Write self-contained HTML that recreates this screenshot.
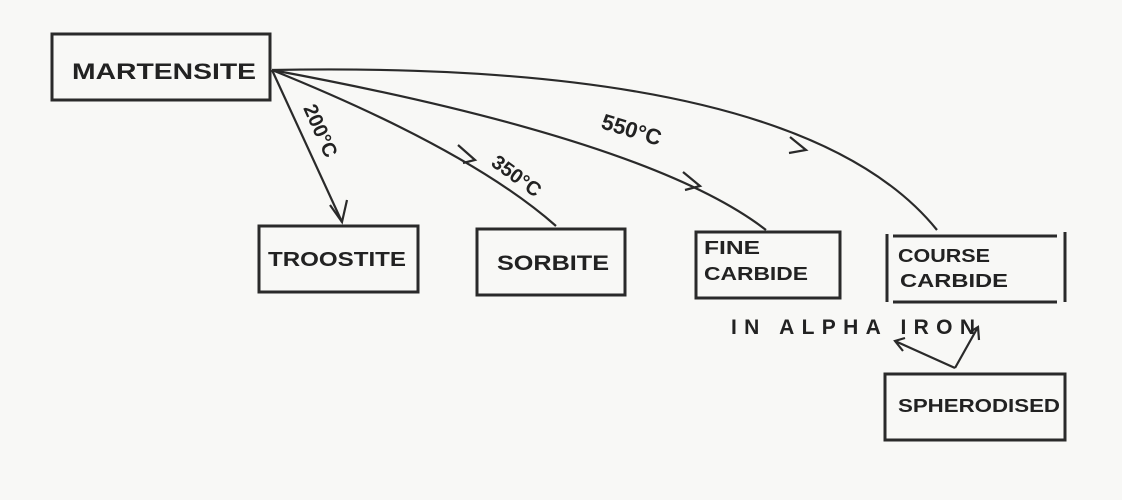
<!DOCTYPE html>
<html><head><meta charset="utf-8"><style>
html,body{margin:0;padding:0;background:#f8f8f6;}
svg{display:block}
text{font-family:"Liberation Sans",sans-serif;fill:#222;font-weight:bold}
</style></head><body>
<svg width="1122" height="500" viewBox="0 0 1122 500">
<rect width="1122" height="500" fill="#f8f8f6"/>
<g fill="none" stroke="#2a2a2a" stroke-width="3">
<rect x="52" y="34" width="218" height="66"/>
<rect x="259" y="226" width="159" height="66"/>
<rect x="477" y="229" width="148" height="66"/>
<rect x="696" y="232" width="144" height="66"/>
<path d="M887 234 V302 M893 236 H1057 M893 302 H1057 M1065 232 V302"/>
<rect x="885" y="374" width="180" height="66"/>
</g>
<g fill="none" stroke="#2a2a2a" stroke-width="2.2">
<path d="M272 70 L342 222"/>
<path d="M330 205 L342 222 L347 200"/>
<path d="M272 70 Q470 150 556 226"/>
<path d="M458 145 L475 160 L463 163"/>
<path d="M272 70 Q650 140 766 230"/>
<path d="M683 172 L700 186 L685 190"/>
<path d="M272 70 Q800 60 937 230"/>
<path d="M790 137 L806 150 L789 153"/>
<path d="M955 368 L895 341 M905 338 L895 341 L903 351"/>
<path d="M955 368 L978 327 M970 332 L978 327 L979 340"/>
</g>
<text x="72" y="79" font-size="22" textLength="184" lengthAdjust="spacingAndGlyphs">MARTENSITE</text>
<text x="268" y="266" font-size="20" textLength="138" lengthAdjust="spacingAndGlyphs">TROOSTITE</text>
<text x="497" y="270" font-size="21" textLength="112" lengthAdjust="spacingAndGlyphs">SORBITE</text>
<text x="704" y="254" font-size="18" textLength="56" lengthAdjust="spacingAndGlyphs">FINE</text>
<text x="704" y="280" font-size="18" textLength="104" lengthAdjust="spacingAndGlyphs">CARBIDE</text>
<text x="898" y="262" font-size="18" textLength="92" lengthAdjust="spacingAndGlyphs">COURSE</text>
<text x="900" y="287" font-size="18" textLength="108" lengthAdjust="spacingAndGlyphs">CARBIDE</text>
<text x="898" y="412" font-size="18" textLength="162" lengthAdjust="spacingAndGlyphs">SPHERODISED</text>
<text x="731" y="334" font-size="21" textLength="244" lengthAdjust="spacing">IN ALPHA IRON</text>
<text font-size="20" transform="translate(303,108) rotate(66)">200°C</text>
<text font-size="20" transform="translate(490,165) rotate(36)">350°C</text>
<text font-size="22" transform="translate(600,128) rotate(17)">550°C</text>
</svg>
</body></html>
